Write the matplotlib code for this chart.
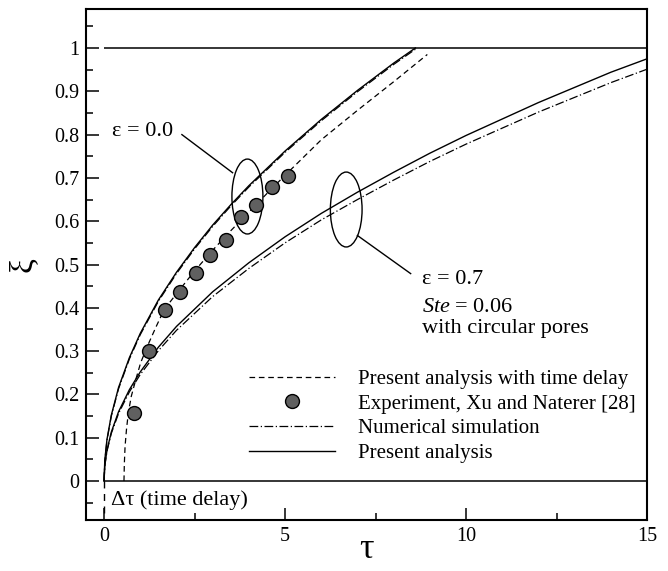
import matplotlib
matplotlib.use("Agg")
import matplotlib.pyplot as plt
from matplotlib.patches import Ellipse
from matplotlib.ticker import MultipleLocator, FuncFormatter

plt.rcParams["font.family"] = ["Liberation Serif", "DejaVu Serif"]
plt.rcParams["mathtext.fontset"] = "custom"
plt.rcParams["mathtext.rm"] = "Liberation Serif"
plt.rcParams["mathtext.it"] = "Liberation Serif:italic"

# ── data ─────────────────────────────────────────────────────────
tau_e0 = [0, 0.02, 0.08, 0.2, 0.4, 0.7, 1.0, 1.5, 2.0, 2.5, 3.0, 3.5, 4.0,
          5.0, 6.0, 7.0, 8.0, 8.6]
xi_e0_present = [0, 0.048, 0.096, 0.152, 0.216, 0.285, 0.341, 0.418, 0.482,
                 0.539, 0.591, 0.638, 0.682, 0.762, 0.835, 0.902, 0.965, 1.0]
xi_e0_numeric = [0, 0.046, 0.094, 0.150, 0.213, 0.282, 0.338, 0.415, 0.479,
                 0.536, 0.588, 0.635, 0.679, 0.759, 0.832, 0.899, 0.962, 0.997]

tau_e7 = [0, 0.02, 0.08, 0.2, 0.4, 0.7, 1.0, 1.5, 2.0, 3.0, 4.0, 5.0, 6.0,
          7.0, 8.0, 9.0, 10.0, 11.0, 12.0, 13.0, 14.0, 15.0]
xi_e7_present = [0, 0.036, 0.071, 0.113, 0.160, 0.211, 0.252, 0.309, 0.357,
                 0.437, 0.504, 0.564, 0.618, 0.667, 0.713, 0.757, 0.798,
                 0.836, 0.874, 0.909, 0.944, 0.975]
xi_e7_numeric = [0, 0.035, 0.069, 0.110, 0.156, 0.206, 0.246, 0.301, 0.348,
                 0.426, 0.491, 0.550, 0.603, 0.650, 0.695, 0.738, 0.778,
                 0.815, 0.852, 0.886, 0.920, 0.951]

tau_delay = [0.55, 0.56, 0.58, 0.62, 0.67, 0.75, 0.875, 1.01, 1.2, 1.43, 1.66,
             2.07, 2.5, 3.0, 3.5, 4.0, 4.5, 5.0, 6.0, 7.0, 8.0, 8.93]
xi_delay = [0, 0.04, 0.08, 0.12, 0.157, 0.195, 0.234, 0.273, 0.312, 0.355,
            0.396, 0.44, 0.485, 0.533, 0.578, 0.621, 0.664, 0.706, 0.788,
            0.856, 0.922, 0.985]

tau_exp = [0.83, 1.25, 1.68, 2.09, 2.53, 2.94, 3.36, 3.78, 4.20, 4.64, 5.07]
xi_exp = [0.157, 0.300, 0.394, 0.437, 0.481, 0.523, 0.556, 0.609, 0.637,
          0.680, 0.705]

labels = ["Present analysis with time delay",
          "Experiment, Xu and Naterer [28]",
          "Numerical simulation",
          "Present analysis"]

# ── figure ────────────────────────────────────────────────────────
fig = plt.figure(figsize=(6.68, 5.71), dpi=100)
ax = fig.add_axes([0.1287, 0.0893, 0.8399, 0.8949])

dashed = (0, (4.5, 3))
dashdot = (0, (7, 2, 1, 2))

ax.hlines([0, 1], 0, 15, color="black", linewidth=1.1)
ax.plot([0, 0], [0, -0.09], color="black", linestyle=(0, (5, 4)),
        linewidth=1.0)

h_delay, = ax.plot(tau_delay, xi_delay, color="black", linestyle=dashed,
                   linewidth=0.9)
ax.plot(tau_e0, xi_e0_numeric, color="black", linestyle=dashdot,
        linewidth=0.9)
h_present, = ax.plot(tau_e0, xi_e0_present, color="black", linewidth=1.0)
h_num, = ax.plot(tau_e7, xi_e7_numeric, color="black", linestyle=dashdot,
                 linewidth=0.9)
ax.plot(tau_e7, xi_e7_present, color="black", linewidth=1.0)
h_exp, = ax.plot(tau_exp, xi_exp, "o", markersize=10,
                 markerfacecolor="#606060", markeredgecolor="black",
                 markeredgewidth=1.0, linestyle="none", zorder=5)

# ellipses and leader lines
ax.add_patch(Ellipse((3.96, 0.657), 0.856, 0.173, fill=False,
                     edgecolor="black", linewidth=1.0))
ax.add_patch(Ellipse((6.69, 0.627), 0.876, 0.173, fill=False,
                     edgecolor="black", linewidth=1.0))
ax.plot([2.15, 3.55], [0.80, 0.712], color="black", linewidth=1.0)
ax.plot([7.0, 8.47], [0.567, 0.479], color="black", linewidth=1.0)

ax.text(0.22, 0.797, "ε = 0.0", fontsize=16, ha="left", va="baseline")
ax.text(8.78, 0.455, "ε = 0.7", fontsize=16, ha="left", va="baseline")
ax.text(8.78, 0.390, r"$\mathit{Ste}$ = 0.06", fontsize=16, ha="left",
        va="baseline")
ax.text(8.78, 0.342, "with circular pores", fontsize=16, ha="left",
        va="baseline")
ax.text(0.19, -0.043, "Δτ (time delay)", fontsize=16, ha="left",
        va="center")

ax.legend([h_delay, h_exp, h_num, h_present], labels, loc="upper left",
          bbox_to_anchor=(0.291, 0.295), frameon=False, fontsize=15,
          handlelength=4.1, handletextpad=1.1, labelspacing=0.25,
          borderaxespad=0, borderpad=0)

# ── axes styling ──────────────────────────────────────────────────
ax.set_xlim(-0.5, 15)
ax.set_ylim(-0.09, 1.09)
ax.xaxis.set_major_locator(MultipleLocator(5))
ax.xaxis.set_minor_locator(MultipleLocator(2.5))
ax.yaxis.set_major_locator(MultipleLocator(0.1))
ax.yaxis.set_minor_locator(MultipleLocator(0.05))
ax.yaxis.set_major_formatter(FuncFormatter(lambda v, p: f"{v:.1f}".rstrip("0").rstrip(".") if abs(v) > 1e-9 else "0"))
ax.set_yticks([i / 10 for i in range(11)])
ax.tick_params(which="both", direction="in", top=False, right=False,
               width=1.1, labelsize=14.5)
ax.tick_params(which="major", length=9, pad=5)
ax.tick_params(which="minor", length=5)
for sp in ax.spines.values():
    sp.set_linewidth(1.5)

ax.set_xlabel("τ", fontsize=26)
ax.xaxis.label.set_va("baseline")
ax.xaxis.set_label_coords(0.5, -0.074)
ax.set_ylabel("ξ", fontsize=24)
ax.yaxis.label.set_va("center")
ax.yaxis.set_label_coords(-0.112, 0.5)

fig.savefig("out.png", dpi=100)
